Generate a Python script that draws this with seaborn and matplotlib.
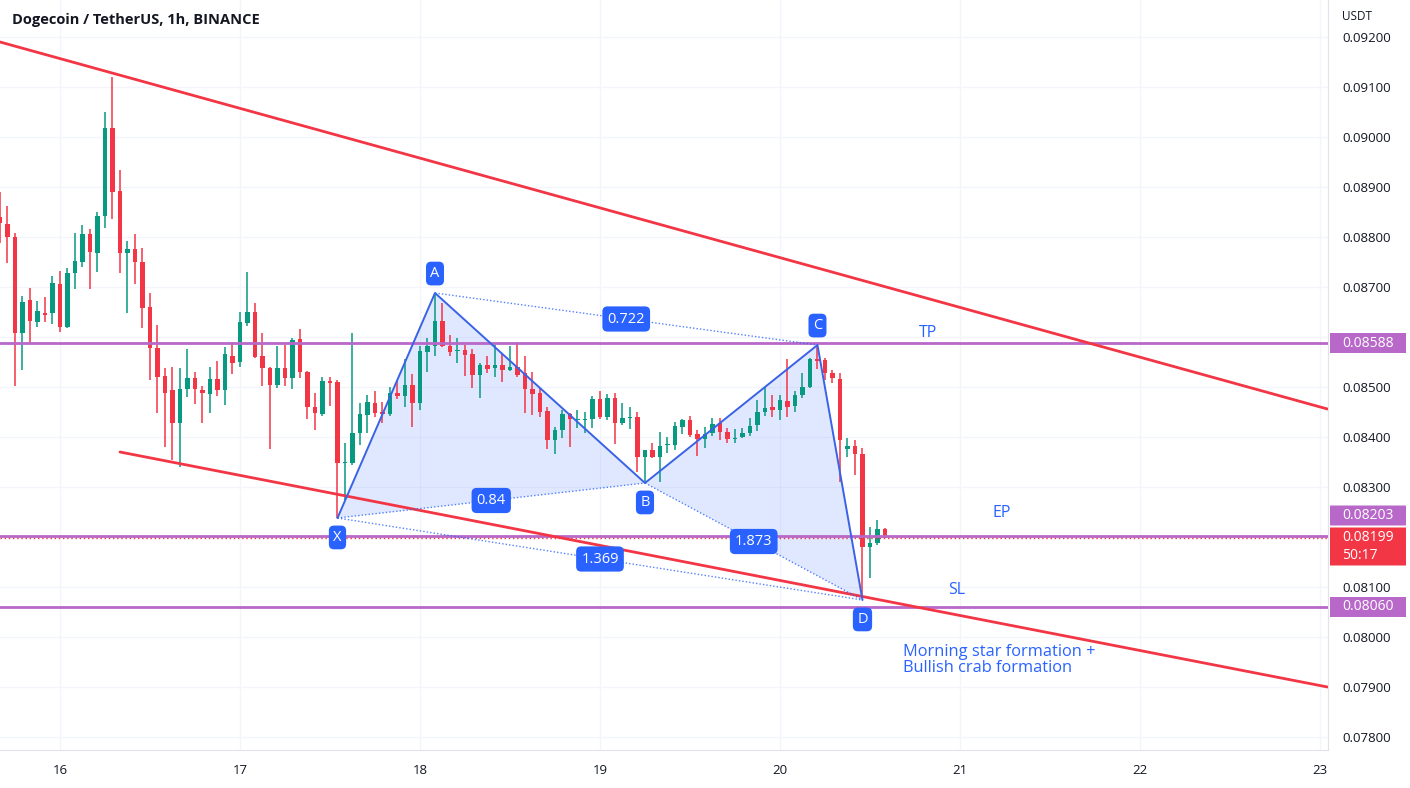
import numpy as np
import pandas as pd
import matplotlib
matplotlib.use("Agg")
import matplotlib.pyplot as plt
import seaborn as sns
from matplotlib.patches import FancyBboxPatch, Polygon
from matplotlib.transforms import blended_transform_factory

sns.set_style("white")
plt.rcParams['font.family'] = ['Open Sans', 'DejaVu Sans']

# ---------------- data (hours counted from day 16, 00:00) ----------------
hours = list(range(-8, 111))
opens = [0.08840, 0.08826, 0.08800, 0.08608, 0.08674, 0.08630, 0.08648, 0.08648, 0.08706, 0.08620,
         0.08728, 0.08750, 0.08806, 0.08768, 0.08842, 0.09018, 0.08892, 0.08768, 0.08776, 0.08750,
         0.08660, 0.08578, 0.08522, 0.08494, 0.08428, 0.08496, 0.08518, 0.08494, 0.08486, 0.08516,
         0.08494, 0.08562, 0.08550, 0.08628, 0.08650, 0.08562, 0.08538, 0.08504, 0.08538, 0.08518,
         0.08596, 0.08530, 0.08460, 0.08446, 0.08512, 0.08510, 0.08348, 0.08348, 0.08408, 0.08444,
         0.08468, 0.08450, 0.08446, 0.08488, 0.08482, 0.08504, 0.08468, 0.08570, 0.08582, 0.08632,
         0.08582, 0.08572, 0.08574, 0.08566, 0.08524, 0.08544, 0.08538, 0.08544, 0.08534, 0.08540,
         0.08528, 0.08496, 0.08488, 0.08452, 0.08394, 0.08414, 0.08446, 0.08434, 0.08434, 0.08436,
         0.08476, 0.08440, 0.08478, 0.08428, 0.08438, 0.08440, 0.08360, 0.08374, 0.08360, 0.08384,
         0.08384, 0.08420, 0.08434, 0.08406, 0.08396, 0.08408, 0.08428, 0.08410, 0.08396, 0.08400,
         0.08408, 0.08424, 0.08450, 0.08460, 0.08454, 0.08472, 0.08462, 0.08484, 0.08500, 0.08556,
         0.08554, 0.08528, 0.08516, 0.08376, 0.08382, 0.08366, 0.08180, 0.08188, 0.08216]
highs = [0.08890, 0.08862, 0.08808, 0.08682, 0.08698, 0.08672, 0.08680, 0.08722, 0.08732, 0.08738,
         0.08808, 0.08824, 0.08816, 0.08850, 0.09050, 0.09120, 0.08934, 0.08792, 0.08806, 0.08778,
         0.08688, 0.08624, 0.08538, 0.08540, 0.08538, 0.08576, 0.08530, 0.08502, 0.08540, 0.08552,
         0.08580, 0.08590, 0.08650, 0.08730, 0.08668, 0.08608, 0.08540, 0.08582, 0.08584, 0.08598,
         0.08616, 0.08532, 0.08488, 0.08520, 0.08520, 0.08514, 0.08388, 0.08608, 0.08468, 0.08484,
         0.08492, 0.08470, 0.08500, 0.08514, 0.08556, 0.08526, 0.08582, 0.08598, 0.08688, 0.08668,
         0.08604, 0.08598, 0.08584, 0.08576, 0.08548, 0.08562, 0.08584, 0.08568, 0.08582, 0.08590,
         0.08562, 0.08530, 0.08498, 0.08460, 0.08420, 0.08454, 0.08448, 0.08454, 0.08450, 0.08482,
         0.08492, 0.08486, 0.08488, 0.08468, 0.08460, 0.08450, 0.08374, 0.08388, 0.08410, 0.08400,
         0.08430, 0.08436, 0.08442, 0.08414, 0.08420, 0.08438, 0.08438, 0.08418, 0.08416, 0.08418,
         0.08438, 0.08474, 0.08500, 0.08484, 0.08484, 0.08556, 0.08492, 0.08528, 0.08558, 0.08584,
         0.08558, 0.08534, 0.08528, 0.08398, 0.08394, 0.08378, 0.08220, 0.08234, 0.08218]
lows = [0.08788, 0.08748, 0.08502, 0.08534, 0.08588, 0.08620, 0.08630, 0.08626, 0.08610, 0.08618,
        0.08696, 0.08740, 0.08696, 0.08730, 0.08818, 0.08836, 0.08728, 0.08648, 0.08706, 0.08618,
        0.08514, 0.08448, 0.08380, 0.08354, 0.08340, 0.08480, 0.08466, 0.08428, 0.08448, 0.08482,
        0.08464, 0.08526, 0.08540, 0.08622, 0.08558, 0.08502, 0.08376, 0.08498, 0.08502, 0.08496,
        0.08518, 0.08436, 0.08414, 0.08442, 0.08462, 0.08238, 0.08274, 0.08344, 0.08384, 0.08408,
        0.08440, 0.08428, 0.08442, 0.08476, 0.08460, 0.08420, 0.08454, 0.08530, 0.08562, 0.08580,
        0.08562, 0.08548, 0.08522, 0.08498, 0.08478, 0.08528, 0.08520, 0.08510, 0.08532, 0.08520,
        0.08448, 0.08444, 0.08440, 0.08376, 0.08366, 0.08398, 0.08380, 0.08418, 0.08408, 0.08418,
        0.08436, 0.08434, 0.08386, 0.08424, 0.08416, 0.08330, 0.08308, 0.08358, 0.08310, 0.08368,
        0.08374, 0.08406, 0.08400, 0.08362, 0.08378, 0.08402, 0.08394, 0.08388, 0.08388, 0.08398,
        0.08402, 0.08412, 0.08442, 0.08440, 0.08434, 0.08440, 0.08450, 0.08478, 0.08498, 0.08536,
        0.08514, 0.08508, 0.08310, 0.08360, 0.08324, 0.08080, 0.08118, 0.08184, 0.08198]
closes = [0.08828, 0.08800, 0.08608, 0.08670, 0.08632, 0.08652, 0.08644, 0.08708, 0.08620, 0.08728,
          0.08752, 0.08806, 0.08770, 0.08842, 0.09018, 0.08890, 0.08768, 0.08776, 0.08750, 0.08658,
          0.08578, 0.08520, 0.08488, 0.08428, 0.08496, 0.08518, 0.08496, 0.08488, 0.08516, 0.08494,
          0.08566, 0.08548, 0.08630, 0.08650, 0.08560, 0.08538, 0.08504, 0.08538, 0.08518, 0.08594,
          0.08530, 0.08460, 0.08448, 0.08512, 0.08508, 0.08348, 0.08350, 0.08408, 0.08446, 0.08470,
          0.08448, 0.08446, 0.08488, 0.08482, 0.08504, 0.08468, 0.08572, 0.08582, 0.08632, 0.08582,
          0.08570, 0.08574, 0.08564, 0.08524, 0.08544, 0.08536, 0.08544, 0.08534, 0.08540, 0.08524,
          0.08496, 0.08486, 0.08450, 0.08394, 0.08414, 0.08446, 0.08436, 0.08436, 0.08436, 0.08476,
          0.08440, 0.08478, 0.08428, 0.08438, 0.08440, 0.08360, 0.08374, 0.08360, 0.08382, 0.08386,
          0.08422, 0.08434, 0.08404, 0.08396, 0.08406, 0.08426, 0.08410, 0.08396, 0.08398, 0.08408,
          0.08422, 0.08450, 0.08458, 0.08454, 0.08474, 0.08460, 0.08484, 0.08500, 0.08556, 0.08552,
          0.08528, 0.08518, 0.08394, 0.08382, 0.08366, 0.08180, 0.08188, 0.08216, 0.08199]

day_ticks = [0, 24, 48, 72, 96, 120, 144, 168]
day_labels = ["16", "17", "18", "19", "20", "21", "22", "23"]
price_ticks = [0.078, 0.079, 0.080, 0.081, 0.082, 0.083, 0.084, 0.085,
               0.086, 0.087, 0.088, 0.089, 0.090, 0.091, 0.092]

# channel trend lines (anchor hour, anchor price)
upper_t = [-8, 169]
upper_p = [0.09190, 0.08456]
lower_t = [8, 169]
lower_p = [0.08370, 0.07900]

# XABCD harmonic pattern
pat_names = ["X", "A", "B", "C", "D"]
pat_t = [37, 50, 78, 101, 107]
pat_p = [0.08238, 0.08688, 0.08308, 0.08584, 0.08074]
ratio_pairs = [("X", "B"), ("A", "C"), ("B", "D"), ("X", "D")]
ratio_vals = ["0.84", "0.722", "1.873", "1.369"]

tp_price, ep_price, sl_price = 0.08588, 0.08203, 0.08060
last_price = 0.08199
countdown = "50:17"

# ---------------- styling ----------------
GREEN = "#089981"
RED = "#f23645"
PURPLE = "#b868c8"
BLUE = "#2962ff"
TXT = "#131722"
GRID = "#f3f5fa"

W, H = 1410, 788
fig = plt.figure(figsize=(W / 100, H / 100), dpi=100)
fig.patch.set_facecolor("white")
ax = fig.add_axes([0, 38 / H, 1328 / W, 750 / H])
ax.set_xlim(-8, 169.07)
ax.set_ylim(0.07774, 0.09274)

df = pd.DataFrame({"t": hours, "o": opens, "h": highs, "l": lows, "c": closes})
df["col"] = np.where(df["c"] > df["o"], GREEN, RED)

# grid
for t in day_ticks:
    ax.axvline(t, color=GRID, lw=1, zorder=0)
for p in price_ticks:
    ax.axhline(p, color=GRID, lw=1, zorder=0)

# candles
ax.vlines(df["t"], df["l"], df["h"], colors=df["col"], lw=1.1, zorder=3)
body_lo = np.minimum(df["o"], df["c"])
body_h = np.maximum(np.abs(df["c"] - df["o"]), 0.00002)
ax.bar(df["t"], body_h, bottom=body_lo, width=0.66, color=df["col"], linewidth=0, zorder=4)

# horizontal levels
for p in (tp_price, ep_price, sl_price):
    ax.axhline(p, color=PURPLE, lw=2, zorder=5)
ax.axhline(last_price, color=RED, lw=1, ls=(0, (1, 2)), zorder=5)

# channel lines
sns.lineplot(x=upper_t, y=upper_p, ax=ax, color=RED, lw=2, sort=False, estimator=None, zorder=6)
sns.lineplot(x=lower_t, y=lower_p, ax=ax, color=RED, lw=2, sort=False, estimator=None, zorder=6)

# pattern
pt = dict(zip(pat_names, zip(pat_t, pat_p)))
for tri in (("X", "A", "B"), ("B", "C", "D")):
    poly = Polygon([pt[k] for k in tri], closed=True, facecolor=BLUE, alpha=0.14,
                   edgecolor="none", zorder=2)
    ax.add_patch(poly)
sns.lineplot(x=pat_t, y=pat_p, ax=ax, color="#3a62e6", lw=1.4, sort=False, estimator=None, zorder=7)
for (a, b), r in zip(ratio_pairs, ratio_vals):
    (t1, p1), (t2, p2) = pt[a], pt[b]
    ax.plot([t1, t2], [p1, p2], color=BLUE, lw=1, ls=(0, (1, 1.5)), alpha=0.8, zorder=7)
    ax.text((t1 + t2) / 2, (p1 + p2) / 2, r, color="white", fontsize=10.5, ha="center", va="center",
            zorder=9, bbox=dict(boxstyle="round,pad=0.35,rounding_size=0.35", fc=BLUE, ec="none"))
for name, t, p in zip(pat_names, pat_t, pat_p):
    off = 14 if name in ("A", "C") else -14
    ax.annotate(name, (t, p), xytext=(0, off), textcoords="offset points", color="white",
                fontsize=10.5, ha="center", va="center", zorder=9,
                bbox=dict(boxstyle="round,pad=0.3,rounding_size=0.35", fc=BLUE, ec="none"))

# level texts
ax.annotate("TP", (115.7, tp_price), xytext=(0, 7), textcoords="offset points", color=BLUE,
            fontsize=11.5, ha="center", va="center")
ax.annotate("EP", (125.6, ep_price), xytext=(0, 16), textcoords="offset points", color=BLUE,
            fontsize=11.5, ha="center", va="center")
ax.annotate("SL", (119.5, sl_price), xytext=(0, 12), textcoords="offset points", color=BLUE,
            fontsize=11.5, ha="center", va="center")
ax.text(112.4, 0.07986, "Morning star formation +\nBullish crab formation", color=BLUE,
        fontsize=11.8, ha="left", va="top", linespacing=1.0)

# axes, ticks
ax.set_xticks(day_ticks)
ax.set_xticklabels(day_labels)
ax.yaxis.tick_right()
ax.set_yticks(price_ticks)
hidden = {0.082, 0.086}   # covered by the level boxes on the price scale
ax.set_yticklabels(["" if round(p, 3) in hidden else f"{p:.5f}" for p in price_ticks])
ax.tick_params(axis="x", length=0, pad=10, labelsize=9.5, labelcolor=TXT)
ax.tick_params(axis="y", length=0, pad=10, labelsize=9.5, labelcolor=TXT)
for s in ("top", "left"):
    ax.spines[s].set_visible(False)
ax.spines["right"].set_color("#e0e3eb")
ax.spines["bottom"].set_color("#e0e3eb")

# right-axis price boxes
tr = blended_transform_factory(ax.transAxes, ax.transData)
bx0 = 1330 / 1328
bw = 76 / 1328
def price_box(center, height, color, text, ty):
    box = FancyBboxPatch((bx0, center - height / 2), bw, height, boxstyle="round,pad=0,rounding_size=0.002",
                         mutation_aspect=0.00002, transform=tr, fc=color, ec="none",
                         clip_on=False, zorder=20)
    ax.add_patch(box)
    ax.text(1342 / 1328, ty, text, transform=tr, color="white", fontsize=10, ha="left",
            va="center", clip_on=False, zorder=21, linespacing=1.25)

price_box(tp_price, 0.0004, PURPLE, f"{tp_price:.5f}", tp_price)
price_box(ep_price + 0.0004, 0.0004, PURPLE, f"{ep_price:.5f}", ep_price + 0.0004)
price_box(last_price - 0.00018, 0.00076, RED, f"{last_price:.5f}\n{countdown}", last_price - 0.00018)
price_box(sl_price, 0.0004, PURPLE, f"{sl_price:.5f}", sl_price)

fig.text(1342 / W, 1 - 16 / H, "USDT", color=TXT, fontsize=8.5, ha="left", va="center")
fig.text(12 / W, 1 - 20 / H, "Dogecoin / TetherUS, 1h, BINANCE", color=TXT, fontsize=10.5,
         fontweight="bold", ha="left", va="center")

fig.savefig("out.png", dpi=100, facecolor="white")
